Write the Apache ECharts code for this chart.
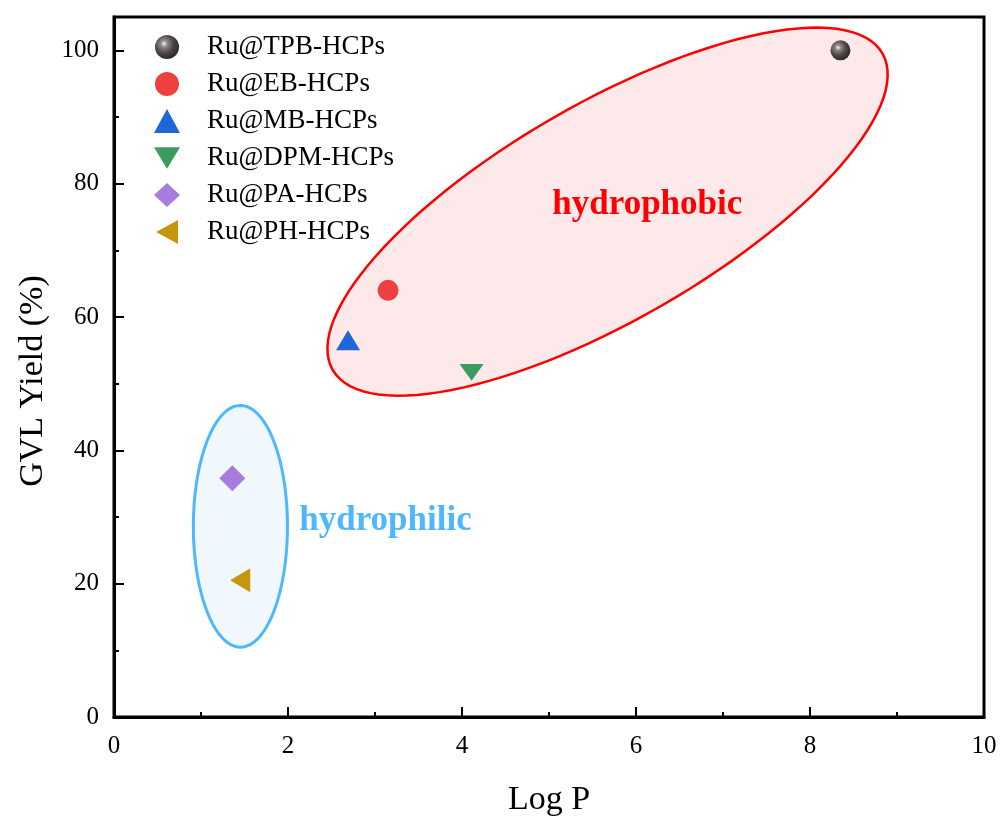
<!DOCTYPE html>
<html>
<head>
<meta charset="utf-8">
<script src="https://cdn.jsdelivr.net/npm/echarts@6/dist/echarts.min.js"></script>
<style>html,body{margin:0;padding:0;background:#fff}#c{width:1003px;height:823px}</style>
</head>
<body>
<div id="c"></div>
<script>
// ---- data ----
const seriesNames = ['Ru@TPB-HCPs','Ru@EB-HCPs','Ru@MB-HCPs','Ru@DPM-HCPs','Ru@PA-HCPs','Ru@PH-HCPs'];
const logP  = [8.35, 3.15, 2.69, 4.11, 1.36, 1.45];
const yieldGVL = [100, 64.0, 56.5, 51.7, 35.8, 20.5];
const xTicks = [0, 2, 4, 6, 8, 10];
const yTicks = [0, 20, 40, 60, 80, 100];
const yMinorTicks = [10, 30, 50, 70, 90];
// ellipse annotations in data units: centre, and two conjugate semi-axis vectors
const ellipseRed  = [5.673, 75.8, 3.159, 23.75, -0.624, 14.08];
const ellipseBlue = [1.453, 28.6, 0.541, 0, 0, 18.13];
const labelTexts = ['hydrophobic', 'hydrophilic'];
const labelPos = [[6.13, 76.8], [3.12, 29.4]];

const colors = ['#4a4444', '#EE4040', '#1F66D8', '#3A9C5E', '#A87CDE', '#C6960F'];
const symbols = ['circle', 'circle', 'triangle', 'path://M0,0L24,0L12,20Z', 'diamond', 'path://M22,0L22,24L0,12Z'];
const sizes = [20, 21, [24, 20], [24, 20], 26, [22, 24]];

const sphere = {type:'radial', x:0.38, y:0.36, r:0.65, colorStops:[
  {offset:0, color:'#f2f2f2'}, {offset:0.22, color:'#8c8686'}, {offset:0.6, color:'#4d4646'}, {offset:1, color:'#2e2828'}]};

const scatterSeries = seriesNames.map((n, i) => ({
  name: n, type: 'scatter', z: 5,
  symbol: symbols[i], symbolSize: sizes[i], symbolKeepAspect: true,
  itemStyle: {color: i === 0 ? sphere : colors[i], opacity: 1},
  data: [[logP[i], yieldGVL[i]]]
}));

function ellipseItem(params, api) {
  const e = params.dataIndex === 0 ? ellipseRed : ellipseBlue;
  const pts = [];
  for (let k = 0; k < 120; k++) {
    const t = 2 * Math.PI * k / 120;
    pts.push(api.coord([e[0] + e[2] * Math.cos(t) + e[4] * Math.sin(t), e[1] + e[3] * Math.cos(t) + e[5] * Math.sin(t)]));
  }
  const red = params.dataIndex === 0;
  return {type:'polygon', shape:{points:pts},
    style:{fill: red ? '#FDE9E9' : '#F0F8FE', stroke: red ? '#FF0000' : '#4DB8FF', lineWidth: red ? 2.5 : 3}};
}

const chart = echarts.init(document.getElementById('c'));
chart.setOption({
  animation: false,
  backgroundColor: '#fff',
  grid: {left:114, right:19, top:17, bottom:106, show:true, borderColor:'#000', borderWidth:3, backgroundColor:'transparent'},
  legend: {
    data: seriesNames, orient:'vertical', left:149, top:28,
    itemWidth:26, itemHeight:24, itemGap:9,
    textStyle:{fontFamily:'Liberation Serif', fontSize:27, color:'#000', lineHeight:28, padding:[0,0,0,22]}
  },
  xAxis: {
    type:'value', min:0, max:10, interval:2,
    name:'Log P', nameLocation:'middle', nameGap:66,
    nameTextStyle:{fontFamily:'Liberation Serif', fontSize:34, color:'#000'},
    axisLine:{show:true, lineStyle:{color:'#000', width:3}},
    axisTick:{show:true, inside:true, length:10, lineStyle:{color:'#000', width:2}},
    minorTick:{show:true, splitNumber:2, length:5, lineStyle:{color:'#000', width:2}},
    axisLabel:{fontFamily:'Liberation Serif', fontSize:25, color:'#000', margin:17},
    splitLine:{show:false}
  },
  yAxis: [{
    type:'value', min:0, max:105,
    name:'GVL Yield (%)', nameLocation:'middle', nameGap:64, nameRotate:90,
    nameTextStyle:{fontFamily:'Liberation Serif', fontSize:34, color:'#000', padding:[0,28,0,0]},
    axisLine:{show:true, lineStyle:{color:'#000', width:3}},
    axisTick:{show:true, inside:true, length:10, lineStyle:{color:'#000', width:2}, customValues: yTicks},
    axisLabel:{fontFamily:'Liberation Serif', fontSize:25, color:'#000', margin:15, customValues: yTicks},
    splitLine:{show:false}
  }, {
    type:'value', min:0, max:105, position:'left',
    axisLine:{show:false},
    axisTick:{show:true, inside:true, length:5, lineStyle:{color:'#000', width:2}, customValues: yMinorTicks},
    axisLabel:{show:false},
    splitLine:{show:false}
  }],
  series: [
    {type:'custom', z:1, silent:true, clip:false, renderItem: ellipseItem, data:[[0],[1]]},
    {type:'custom', z:3, silent:true, clip:false,
      renderItem: (params, api) => {
        const p = api.coord(labelPos[params.dataIndex]);
        return {type:'text', x:p[0], y:p[1], style:{text: labelTexts[params.dataIndex],
          fontFamily:'Liberation Serif', fontWeight:'bold', fontSize:35,
          fill: params.dataIndex === 0 ? '#FF0000' : '#4DB8FF', align:'center', verticalAlign:'middle'}};
      },
      data:[[0],[1]]},
    ...scatterSeries
  ]
});
</script>
</body>
</html>
